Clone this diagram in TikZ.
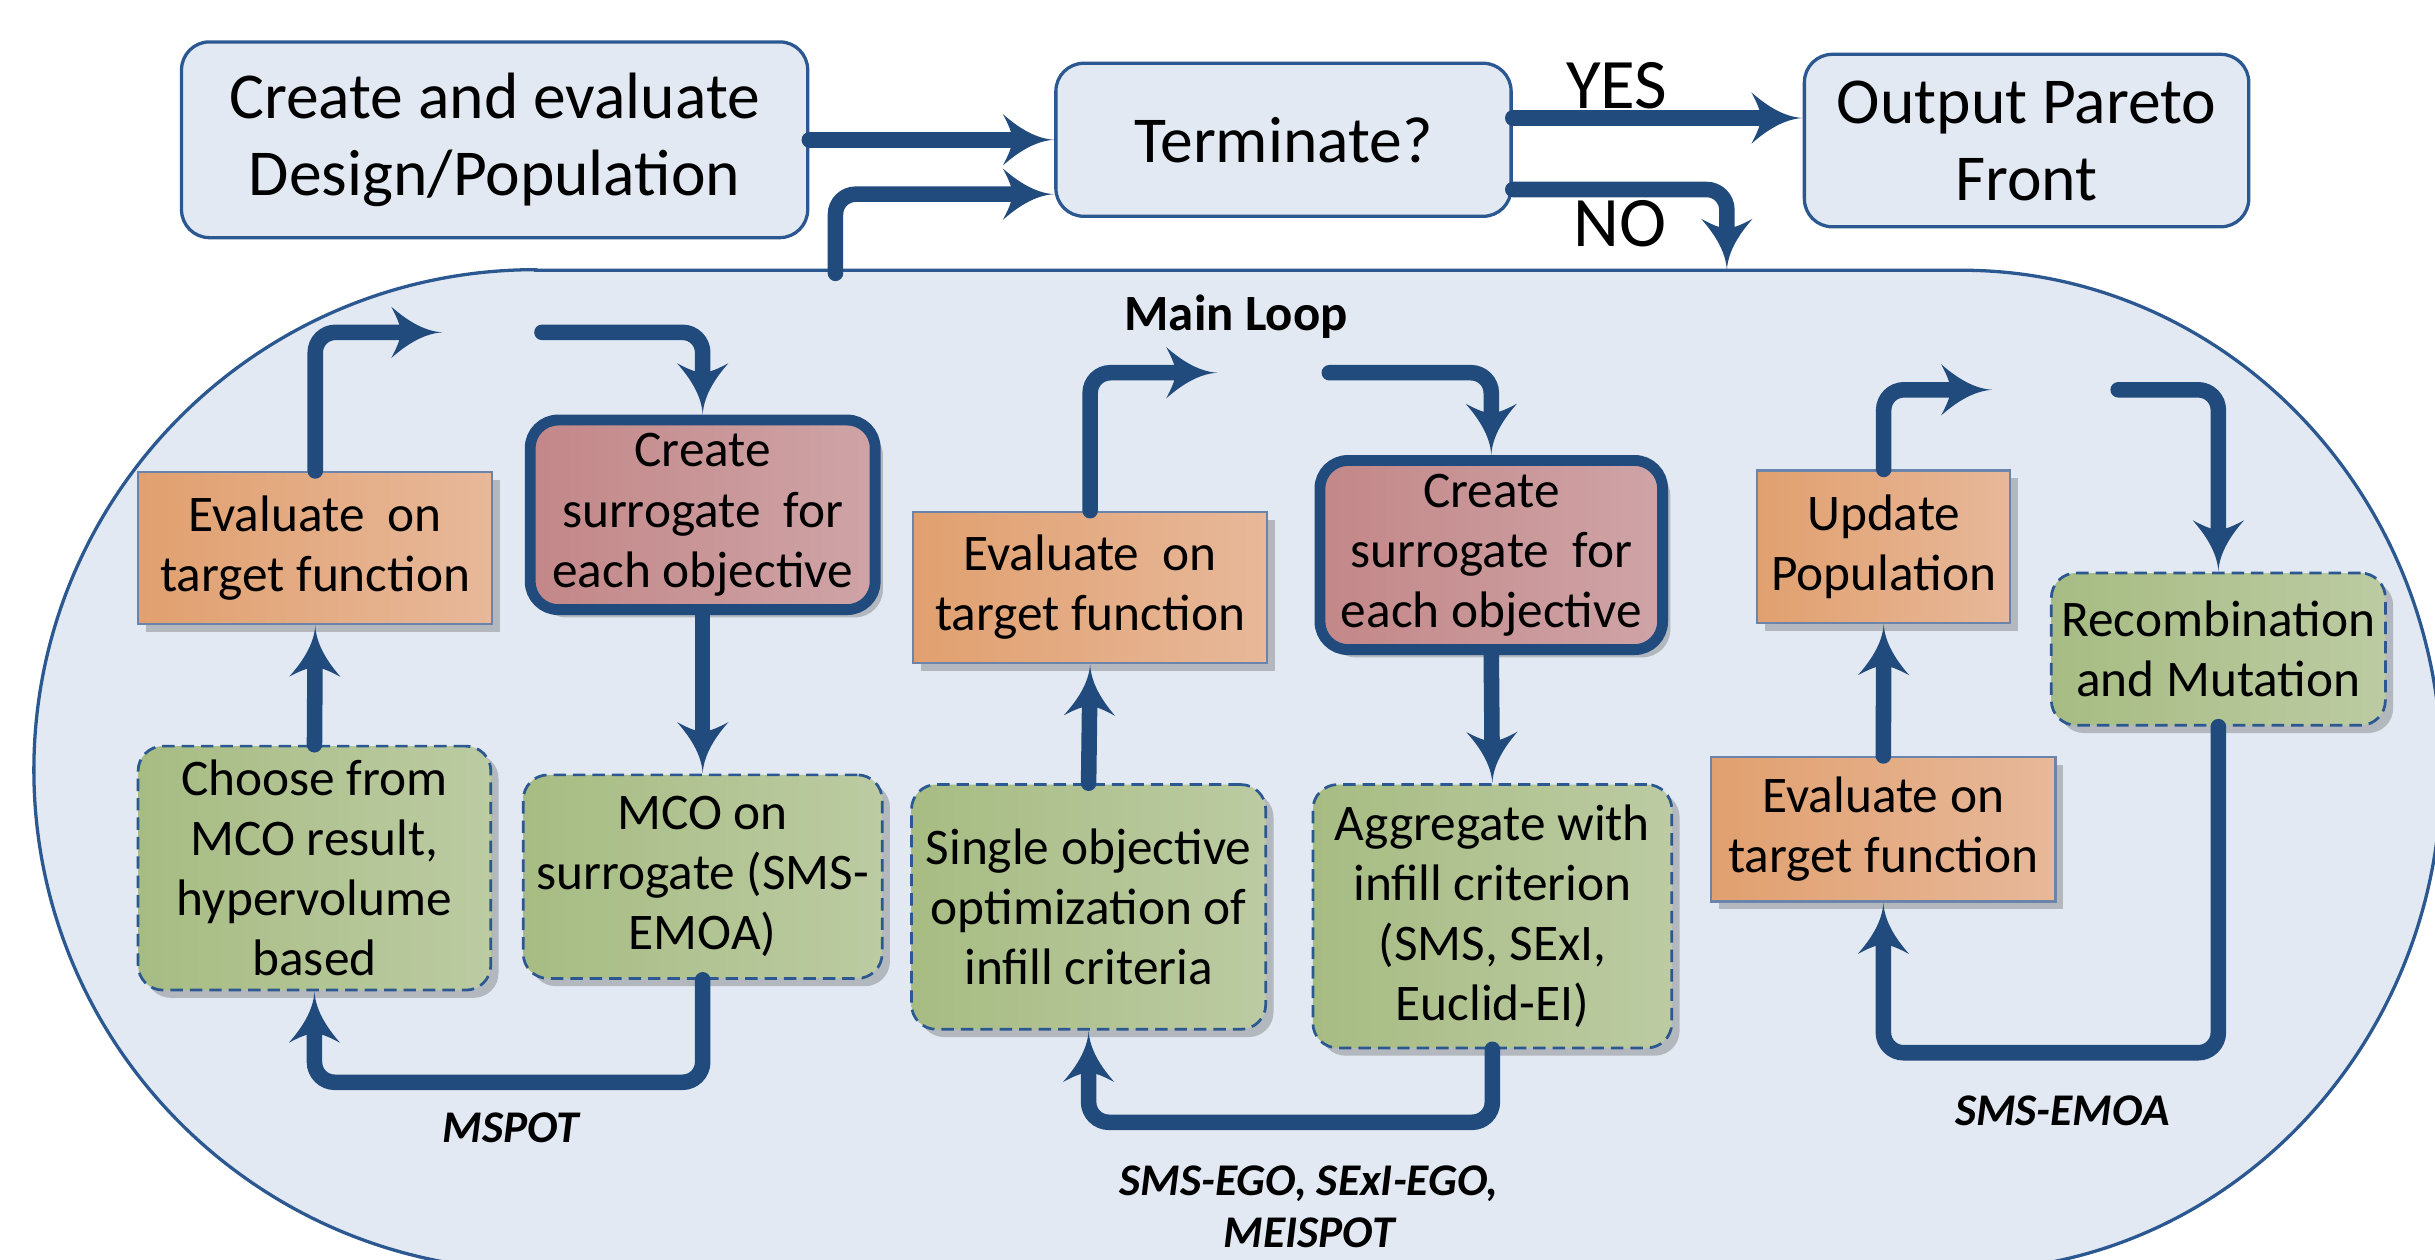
\documentclass[tikz,border=0pt]{standalone}
\usepackage{fontspec}
\setmainfont{Carlito}
\usetikzlibrary{arrows.meta,shadows,calc}

\definecolor{bgc}{HTML}{E2E9F2}
\definecolor{linec}{HTML}{2C5891}
\definecolor{arrc}{HTML}{224B7D}
\definecolor{orL}{HTML}{E1A06F}
\definecolor{orR}{HTML}{E7B89A}
\definecolor{orB}{HTML}{6A84AC}
\definecolor{rdL}{HTML}{C38788}
\definecolor{rdR}{HTML}{CFA4A7}
\definecolor{grL}{HTML}{A7BC83}
\definecolor{grR}{HTML}{BCCBA2}
\definecolor{shc}{HTML}{B3B8BF}

\pgfdeclarearrow{
  name=Flare,
  setup code={
    \pgfarrowssettipend{0pt}
    \pgfarrowssetlineend{-7.6pt}
    \pgfarrowssetbackend{-9.4pt}
    \pgfarrowshullpoint{-9.4pt}{4.7pt}
    \pgfarrowshullpoint{-9.4pt}{-4.7pt}
    \pgfarrowshullpoint{0pt}{0pt}
  },
  drawing code={
    \pgfpathmoveto{\pgfqpoint{0pt}{0pt}}
    \pgfpathcurveto{\pgfqpoint{-3.7pt}{0.2pt}}{\pgfqpoint{-7pt}{2.6pt}}{\pgfqpoint{-9.4pt}{4.7pt}}
    \pgfpathcurveto{\pgfqpoint{-8.4pt}{2.8pt}}{\pgfqpoint{-7.7pt}{1.3pt}}{\pgfqpoint{-7.7pt}{0pt}}
    \pgfpathcurveto{\pgfqpoint{-7.7pt}{-1.3pt}}{\pgfqpoint{-8.4pt}{-2.8pt}}{\pgfqpoint{-9.4pt}{-4.7pt}}
    \pgfpathcurveto{\pgfqpoint{-7pt}{-2.6pt}}{\pgfqpoint{-3.7pt}{-0.2pt}}{\pgfqpoint{0pt}{0pt}}
    \pgfpathclose
    \pgfusepathqfill
  }
}

\tikzset{
  arr/.style={color=arrc, line width=0.1cm, line cap=round, rounded corners=0.13cm, -{Flare}},
  topbox/.style={draw=linec, fill=bgc, line width=0.6pt, rounded corners=0.18cm, align=center, inner sep=0pt,
    font=\fontsize{12}{14.1}\selectfont},
  shad/.style={drop shadow={shadow xshift=0.05cm, shadow yshift=-0.05cm, fill=shc, opacity=1}},
  orbox/.style={shad, draw=orB, line width=0.4pt, left color=orL, right color=orR, align=center, inner sep=0pt,
    font=\fontsize{9.4}{11}\selectfont},
  rdbox/.style={shad, draw=arrc, line width=0.07cm, rounded corners=0.18cm, left color=rdL, right color=rdR,
    align=center, inner sep=0pt, font=\fontsize{9.4}{11}\selectfont},
  grbox/.style={shad, draw=linec, line width=0.5pt, dash pattern=on 0.08cm off 0.045cm, rounded corners=0.16cm,
    left color=grL, right color=grR, align=center, inner sep=0pt, font=\fontsize{9.4}{11}\selectfont},
  lab/.style={align=center, inner sep=0pt, font=\fontsize{8.3}{9.4}\selectfont\bfseries\itshape},
  yn/.style={inner sep=0pt, font=\fontsize{13}{15}\selectfont}
}

\begin{document}
\begin{tikzpicture}[x=0.01cm, y=-0.01cm]
\useasboundingbox (0,0) rectangle (1568,811);
\clip (0,0) rectangle (1568,811);
\fill[white] (0,0) rectangle (1568,811);

% main loop region
\draw[fill=bgc, draw=linec, line width=0.6pt]
  (345,174) -- (1263,174) arc[start angle=90, end angle=-90, x radius=3.09cm, y radius=3.22cm]
  -- (345,818) arc[start angle=270, end angle=90, x radius=3.23cm, y radius=3.22cm] -- cycle;
\coordinate (lo) at (538,176);
\coordinate (ni) at (1112,174);
\node[inner sep=0pt, font=\fontsize{9.3}{11}\selectfont\bfseries] (ml) at (796,204) {Main Loop};

% top row
\node[topbox, minimum width=4.03cm, minimum height=1.26cm] (create) at (318.5,90) {Create and evaluate\\Design/Population};
\node[topbox, minimum width=2.93cm, minimum height=0.985cm] (term) at (826.5,90) {Terminate?};
\node[topbox, minimum width=2.86cm, minimum height=1.11cm] (out) at (1305,90.5) {Output Pareto\\Front};
\node[yn] (yes) at (1041,55) {YES};
\node[yn] (no) at (1043,144) {NO};

\draw[arr] (create.east) -- (term.west);
\draw[arr] (lo) |- ([yshift=-0.35cm]term.west);
\draw[arr] ([yshift=0.14cm]term.east) -- ([yshift=0.14cm]term.east -| out.west);
\draw[arr] ([yshift=-0.32cm]term.east) -| (ni);

% column 1 (MSPOT)
\node[orbox, minimum width=2.28cm, minimum height=0.98cm] (ev1) at (203,353) {Evaluate\ \ on\\target function};
\node[rdbox, minimum width=2.22cm, minimum height=1.22cm] (cs1) at (452.5,331.5) {Create\\surrogate\ \ for\\each objective};
\node[grbox, minimum width=2.27cm, minimum height=1.57cm] (ch1) at (202.5,559) {Choose from\\MCO result,\\hypervolume\\based};
\node[grbox, minimum width=2.31cm, minimum height=1.31cm] (mco1) at (452.5,564.5) {MCO on\\surrogate (SMS-\\EMOA)};
\node[lab] (l1) at (329,726) {MSPOT};
\coordinate (c1a) at (285,214);
\coordinate (c1b) at (349,214);
\draw[arr] (ev1.north) |- (c1a);
\draw[arr] (c1b) -| (cs1.north);
\draw[arr] (cs1.south) -- (mco1.north);
\draw[arr] (mco1.south) -- ++(0,66) -| (ch1.south);
\draw[arr] (ch1.north) -- (ev1.south);

% column 2 (SMS-EGO)
\node[orbox, minimum width=2.28cm, minimum height=0.974cm] (ev2) at (702,378.3) {Evaluate\ \ on\\target function};
\node[rdbox, minimum width=2.205cm, minimum height=1.217cm] (cs2) at (960.3,357.4) {Create\\surrogate\ \ for\\each objective};
\node[grbox, minimum width=2.28cm, minimum height=1.575cm] (so2) at (701,584) {Single objective\\optimization of\\infill criteria};
\node[grbox, minimum width=2.31cm, minimum height=1.695cm] (ag2) at (961,590) {Aggregate with\\infill criterion\\(SMS, SExI,\\Euclid-EI)};
\node[lab] (l2) at (843,777) {SMS-EGO, SExI-EGO,\\MEISPOT};
\coordinate (c2a) at (784,240);
\coordinate (c2b) at (856,240);
\draw[arr] (ev2.north) |- (c2a);
\draw[arr] (c2b) -| (cs2.north);
\draw[arr] (cs2.south) -- (ag2.north);
\draw[arr] (ag2.south) -- ++(0,47) -| (so2.south);
\draw[arr] (so2.north) -- (ev2.south);

% column 3 (SMS-EMOA)
\node[orbox, minimum width=1.63cm, minimum height=0.98cm] (up3) at (1213,352) {Update\\Population};
\node[grbox, minimum width=2.15cm, minimum height=0.98cm] (rm3) at (1428.5,418) {Recombination\\and Mutation};
\node[orbox, minimum width=2.215cm, minimum height=0.93cm] (ev3) at (1212.8,534) {Evaluate on\\target function};
\node[lab] (l3) at (1328,715) {SMS-EMOA};
\coordinate (c3a) at (1283,251);
\coordinate (c3b) at (1364,251);
\draw[arr] (up3.north) |- (c3a);
\draw[arr] (c3b) -| (rm3.north);
\draw[arr] (rm3.south) -- ++(0,210) -| (ev3.south);
\draw[arr] (ev3.north) -- (up3.south);
\end{tikzpicture}
\end{document}
